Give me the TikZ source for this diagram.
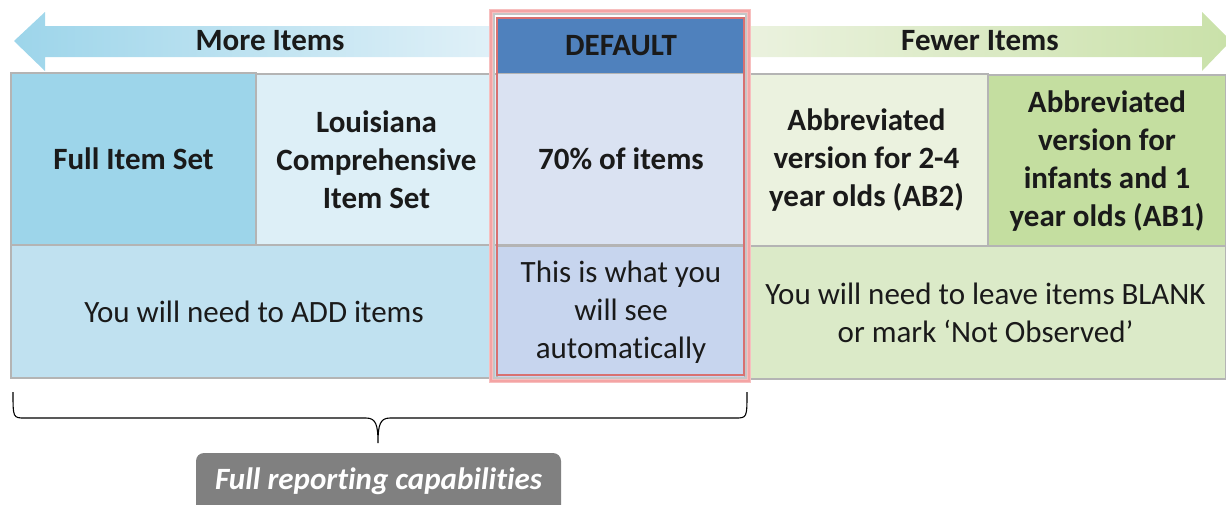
\documentclass[tikz,border=0pt]{standalone}
\usepackage{fontspec}
\setmainfont{Carlito}[Ligatures=NoCommon]
\usetikzlibrary{positioning}
\definecolor{cFull}{HTML}{9DD5EA}
\definecolor{cLouis}{HTML}{DDEFF7}
\definecolor{cDef}{HTML}{DAE2F2}
\definecolor{cDefB}{HTML}{C7D5EE}
\definecolor{cAbTwo}{HTML}{EBF2DF}
\definecolor{cAbOne}{HTML}{C4DEA0}
\definecolor{cAdd}{HTML}{C0E1F0}
\definecolor{cBlank}{HTML}{DBEAC8}
\definecolor{cHead}{HTML}{4F81BD}
\definecolor{cGrid}{HTML}{B4B4B4}
\definecolor{cRedO}{HTML}{F4A4A4}
\definecolor{cRedI}{HTML}{D87070}
\definecolor{cGrayBox}{HTML}{808080}
\definecolor{cTxt}{HTML}{1A1A1A}
\tikzset{
  cell/.style={draw=cGrid, line width=1.2pt, inner sep=0pt, align=center,
    font=\fontsize{31}{38}\selectfont, text=cTxt},
  bcell/.style={cell, font=\fontsize{31}{38}\selectfont\bfseries},
  lbl/.style={font=\fontsize{31}{38}\selectfont\bfseries, text=cTxt, inner sep=0pt},
}
\begin{document}
\begin{tikzpicture}[x=1pt,y=-1pt]
\useasboundingbox (0,0) rectangle (1226,504);
\clip (0,0) rectangle (1226,504);
% arrows
\shade[left color=cFull, right color=cLouis!90!white] (14,41) -- (45,12) -- (45,26) -- (495,26) -- (495,57) -- (45,57) -- (45,71) -- cycle;
\shade[left color=cAbTwo, right color=cAbOne!90!white] (745,26) -- (1202,26) -- (1202,12) -- (1226,36) -- (1226,46) -- (1202,71) -- (1202,57) -- (745,57) -- cycle;
\node[lbl] (more) at (270,41) {More Items};
\node[lbl] (fewer) at (980,41) {Fewer Items};
% top row
\node[bcell, fill=cFull, minimum width=245pt, minimum height=172pt] (full) at (133.5,159) {Full Item Set};
\node[bcell, fill=cLouis, minimum width=241pt, minimum height=172pt] (louis) at (376.5,160) {Louisiana\\Comprehensive\\Item Set};
\node[bcell, fill=cDef, minimum width=248pt, minimum height=172pt] (def) at (621,159) {70\% of items};
\node[bcell, fill=cAbTwo, minimum width=243pt, minimum height=172pt] (abtwo) at (866.5,160) {Abbreviated\\version for 2-4\\year olds (AB2)};
\node[bcell, fill=cAbOne, minimum width=238pt, minimum height=172pt] (abone) at (1107,161) {Abbreviated\\version for\\infants and 1\\year olds (AB1)};
% bottom row
\node[cell, fill=cAdd, minimum width=486pt, minimum height=133pt] (add) at (254,311.5) {You will need to ADD items};
\node[cell, fill=cDefB, minimum width=248pt, minimum height=133pt] (auto) at (621,312.5) {This is what you\\will see\\automatically};
\node[cell, fill=cBlank, minimum width=481pt, minimum height=133pt] (blank) at (985.5,312.5) {You will need to leave items BLANK\\or mark ‘Not Observed’};
% header
\node[bcell, draw=none, fill=cHead, minimum width=246pt, minimum height=54pt] (head) at (621,46) {DEFAULT};
% red frame
\draw[cRedO!70, line width=4pt] (491,11) rectangle (749,381);
\draw[cRedO, line width=2pt] (491,11) rectangle (749,381);
\draw[gray!45, line width=2.5pt] (494,14) rectangle (746,378);
\draw[cRedI, line width=2pt] (497,17.5) rectangle (743.5,375);
% brace
\draw[line width=1.1pt] (13,392) .. controls (13,418) and (13,418) .. (25,418) -- (366,418) .. controls (376,418) and (378,425) .. (378,443) .. controls (378,425) and (380,418) .. (390,418) -- (735,418) .. controls (747,418) and (747,418) .. (747,392);
\coordinate (tip) at (378,443);
% gray box
\fill[cGrayBox, rounded corners=8pt] (196,453) rectangle (561,515);
\node[font=\fontsize{31}{38}\selectfont\bfseries\itshape, text=white, inner sep=0pt] (rep) at (378.5,481) {Full reporting capabilities};
\end{tikzpicture}
\end{document}
